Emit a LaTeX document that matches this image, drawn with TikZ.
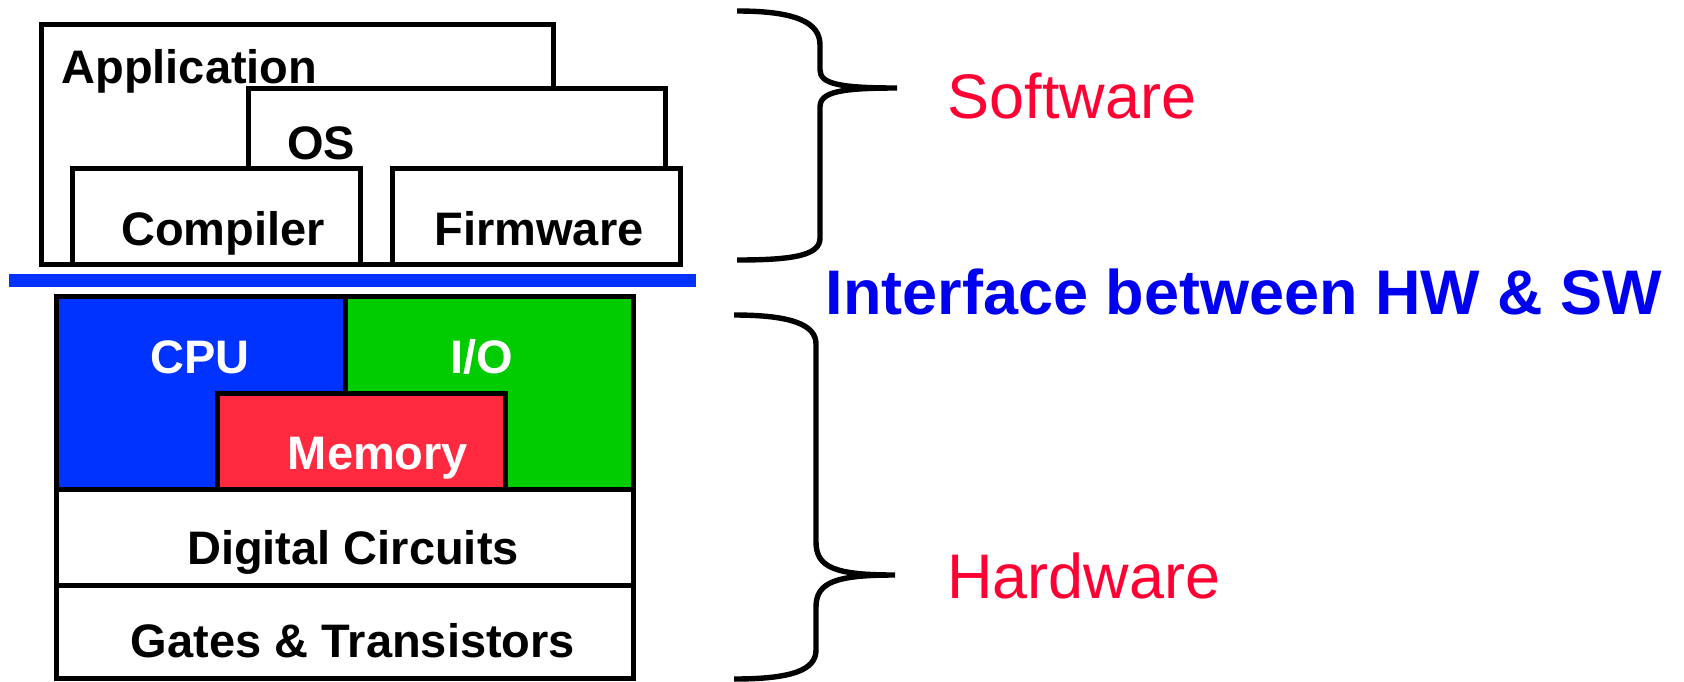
\documentclass[tikz,border=0pt]{standalone}
\usepackage{fontspec}
\setmainfont{Liberation Sans}
\definecolor{cpublue}{RGB}{0,51,255}
\definecolor{iogreen}{RGB}{0,204,0}
\definecolor{memred}{RGB}{255,41,64}
\definecolor{sidered}{RGB}{255,0,51}
\definecolor{ifblue}{RGB}{0,0,240}
\begin{document}
\begin{tikzpicture}[x=0.5pt, y=-0.5pt,
    layer/.style={draw=black, line width=2.5pt, fill=white},
    lbl/.style={font=\fontsize{23.5}{28}\selectfont\bfseries, inner sep=0pt, anchor=base},
    side/.style={font=\fontsize{31.5}{38}\selectfont, text=sidered, inner sep=0pt, anchor=base},
    bracket/.style={line width=2.7pt}]
    \useasboundingbox (0,0) rectangle (1684,681);
    % software layers
    \draw[layer] (41,24) rectangle (553,264);
    \draw[layer] (248,88) rectangle (665,264);
    \draw[layer] (72,168) rectangle (360,264);
    \draw[layer] (392,168) rectangle (680,264);
    \node[lbl, anchor=base west] (app) at (61,83) {Application};
    \node[lbl] (os) at (321,159) {OS};
    \node[lbl] (comp) at (223,245) {Compiler};
    \node[lbl] (firm) at (539,245) {Firmware};
    % interface line
    \draw[cpublue, line width=6.5pt] (9,280) -- (696,280);
    % hardware layers
    \draw[layer, fill=cpublue] (56,296) rectangle (345,489);
    \draw[layer, fill=iogreen] (345,296) rectangle (633,489);
    \draw[layer, fill=memred] (217,393) rectangle (505,489);
    \draw[layer] (56,489) rectangle (633,585);
    \draw[layer] (56,585) rectangle (633,678);
    \node[lbl, text=white] (cpu) at (200,373) {CPU};
    \node[lbl, text=white] (io) at (482,373) {I/O};
    \node[lbl, text=white] (mem) at (378,469) {Memory};
    \node[lbl] (dig) at (353,564) {Digital Circuits};
    \node[lbl] (gates) at (353,657) {Gates \& Transistors};
    % braces
    \draw[bracket] (737,11) .. controls (795,11) and (820,22) .. (820,45) -- (820,70)
        .. controls (820,84) and (840,88) .. (897,88)
        .. controls (840,88) and (820,92) .. (820,107) -- (820,238)
        .. controls (820,255) and (795,260) .. (737,260);
    \draw[bracket] (734,315) .. controls (792,315) and (816,325) .. (816,344) -- (816,542)
        .. controls (816,568) and (836,575) .. (895,575)
        .. controls (836,575) and (816,582) .. (816,607) -- (816,650)
        .. controls (816,670) and (792,679) .. (734,679);
    % labels on the right
    \node[side] (sw) at (1072,118) {Software};
    \node[side] (hw) at (1084,598) {Hardware};
    \node[font=\fontsize{31.5}{38}\selectfont\bfseries, text=ifblue, inner sep=0pt, anchor=base] (iface) at (1244,314) {Interface between HW \& SW};
\end{tikzpicture}
\end{document}
